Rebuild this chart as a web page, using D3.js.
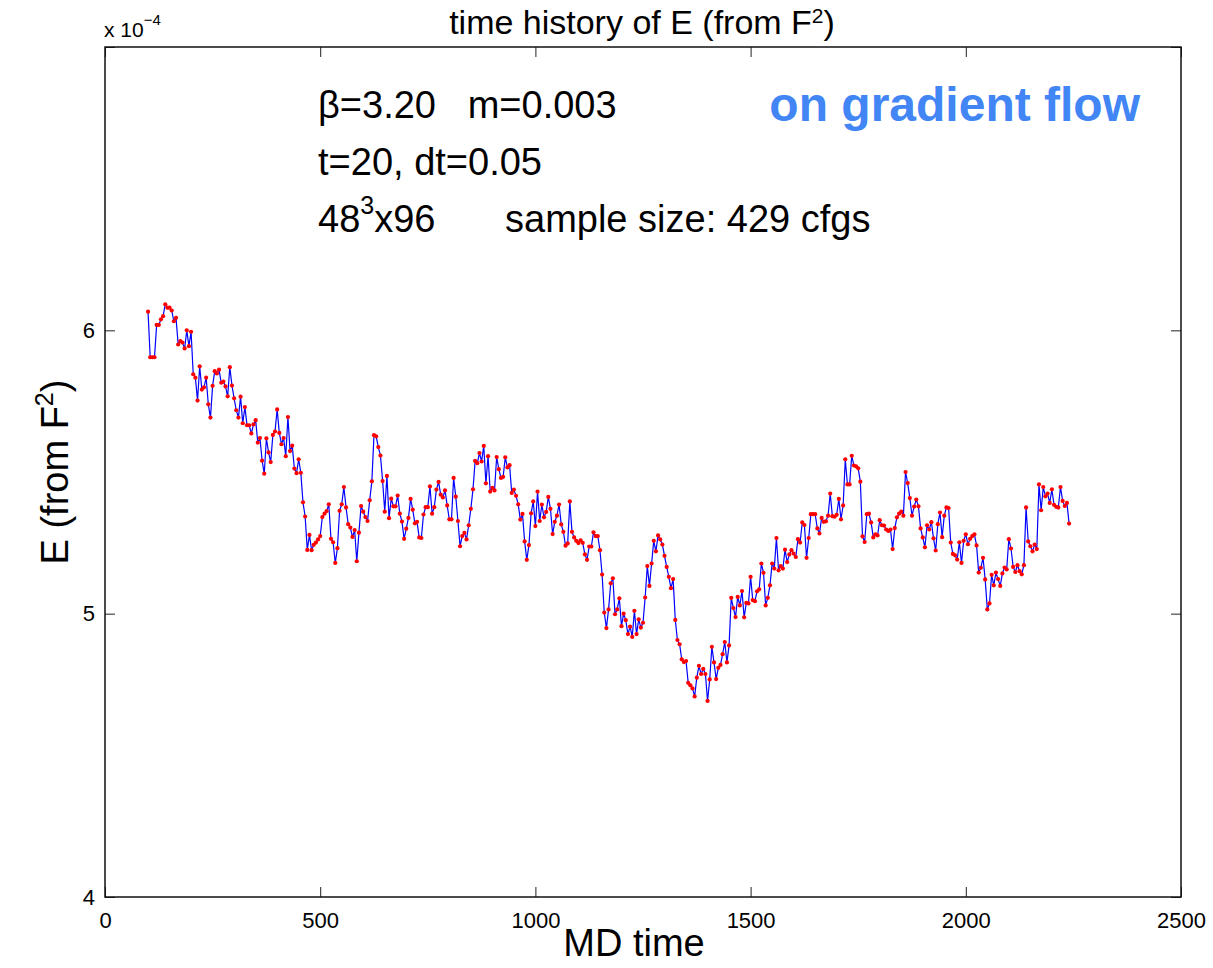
<!DOCTYPE html>
<html>
<head>
<meta charset="utf-8">
<script src="https://cdn.jsdelivr.net/npm/d3@7"></script>
<style>
  body { margin: 0; background: #fff; }
  svg { display: block; font-family: 'Liberation Sans', Arial, Helvetica, sans-serif; }
</style>
</head>
<body>
<svg id="svg" width="1213" height="968"></svg>
<script>
// E values (units of 1e-4), one per configuration
var eValues = [
  6.066, 5.905, 5.905, 5.905, 6.019, 6.019, 6.039, 6.050, 6.092, 6.080,
  6.080, 6.070, 6.032, 6.044, 5.950, 5.962, 5.957, 5.936, 6.000, 5.944,
  5.995, 5.845, 5.833, 5.752, 5.873, 5.791, 5.799, 5.833, 5.739, 5.692,
  5.804, 5.856, 5.848, 5.861, 5.815, 5.819, 5.802, 5.767, 5.870, 5.805,
  5.760, 5.718, 5.692, 5.766, 5.672, 5.729, 5.665, 5.665, 5.636, 5.668,
  5.683, 5.604, 5.620, 5.540, 5.494, 5.619, 5.569, 5.535, 5.631, 5.643,
  5.721, 5.638, 5.598, 5.620, 5.556, 5.694, 5.574, 5.593, 5.512, 5.496,
  5.545, 5.497, 5.393, 5.343, 5.225, 5.278, 5.224, 5.243, 5.251, 5.262,
  5.274, 5.341, 5.353, 5.362, 5.386, 5.264, 5.252, 5.179, 5.231, 5.363,
  5.386, 5.447, 5.375, 5.316, 5.304, 5.271, 5.295, 5.185, 5.286, 5.380,
  5.360, 5.341, 5.327, 5.400, 5.467, 5.630, 5.626, 5.588, 5.558, 5.468,
  5.360, 5.486, 5.337, 5.406, 5.379, 5.379, 5.417, 5.353, 5.325, 5.264,
  5.300, 5.338, 5.405, 5.367, 5.319, 5.324, 5.269, 5.267, 5.350, 5.376,
  5.376, 5.449, 5.353, 5.376, 5.438, 5.465, 5.420, 5.410, 5.435, 5.382,
  5.333, 5.333, 5.479, 5.413, 5.327, 5.238, 5.274, 5.285, 5.262, 5.312,
  5.370, 5.439, 5.539, 5.531, 5.567, 5.537, 5.592, 5.460, 5.556, 5.431,
  5.444, 5.435, 5.553, 5.510, 5.479, 5.483, 5.552, 5.516, 5.524, 5.426,
  5.438, 5.416, 5.386, 5.332, 5.352, 5.255, 5.190, 5.242, 5.354, 5.396,
  5.309, 5.431, 5.327, 5.385, 5.340, 5.359, 5.412, 5.370, 5.281, 5.324,
  5.346, 5.385, 5.315, 5.289, 5.240, 5.248, 5.396, 5.289, 5.269, 5.257,
  5.249, 5.259, 5.250, 5.209, 5.190, 5.237, 5.237, 5.287, 5.274, 5.274,
  5.224, 5.138, 5.004, 4.949, 5.015, 5.107, 5.125, 4.998, 5.015, 5.054,
  4.956, 5.000, 4.977, 4.928, 4.954, 4.918, 5.010, 4.928, 4.980, 4.951,
  4.968, 5.057, 5.168, 5.098, 5.177, 5.257, 5.220, 5.276, 5.262, 5.244,
  5.204, 5.165, 5.130, 5.090, 5.122, 4.978, 4.907, 4.892, 4.839, 4.829,
  4.833, 4.756, 4.747, 4.736, 4.708, 4.774, 4.816, 4.787, 4.805, 4.787,
  4.692, 4.768, 4.883, 4.828, 4.769, 4.809, 4.819, 4.857, 4.900, 4.828,
  4.888, 5.056, 5.020, 4.988, 5.059, 5.029, 5.080, 4.987, 5.038, 5.036,
  5.130, 5.048, 5.044, 5.079, 5.086, 5.177, 5.144, 5.029, 5.056, 5.100,
  5.177, 5.159, 5.267, 5.153, 5.168, 5.159, 5.226, 5.182, 5.209, 5.224,
  5.212, 5.200, 5.263, 5.251, 5.322, 5.313, 5.197, 5.267, 5.351, 5.351,
  5.351, 5.301, 5.283, 5.338, 5.324, 5.326, 5.346, 5.424, 5.344, 5.342,
  5.349, 5.405, 5.333, 5.382, 5.545, 5.456, 5.456, 5.557, 5.523, 5.520,
  5.513, 5.466, 5.273, 5.253, 5.351, 5.353, 5.322, 5.269, 5.280, 5.276,
  5.330, 5.312, 5.311, 5.297, 5.292, 5.297, 5.228, 5.302, 5.340, 5.353,
  5.360, 5.346, 5.500, 5.461, 5.408, 5.346, 5.378, 5.403, 5.379, 5.301,
  5.269, 5.234, 5.312, 5.297, 5.323, 5.266, 5.223, 5.316, 5.357, 5.270,
  5.346, 5.375, 5.373, 5.251, 5.211, 5.206, 5.191, 5.252, 5.179, 5.257,
  5.280, 5.245, 5.264, 5.274, 5.280, 5.241, 5.145, 5.162, 5.197, 5.121,
  5.015, 5.036, 5.137, 5.100, 5.145, 5.122, 5.098, 5.142, 5.163, 5.156,
  5.263, 5.230, 5.165, 5.147, 5.171, 5.150, 5.139, 5.171, 5.375, 5.255,
  5.238, 5.220, 5.244, 5.228, 5.456, 5.365, 5.447, 5.414, 5.424, 5.391,
  5.439, 5.384, 5.377, 5.375, 5.447, 5.398, 5.380, 5.391, 5.318
];

// MD time of first and last configuration (evenly spaced trajectory)
var tFirst = 100;
var tLast = 2240;

var xTicks = [0, 500, 1000, 1500, 2000, 2500];
var yTicks = [4, 5, 6, 7];
var yTickLabels = ['4', '5', '6', ''];

var info = ['\u03b2=3.20   m=0.003', 't=20, dt=0.05'];

var data = eValues.map(function (v, i) {
    return { t: tFirst + i * (tLast - tFirst) / (eValues.length - 1), e: v };
});

// plot box (don't call it "top", that's window.top)
var boxL = 105, boxR = 1181, boxT = 47, boxB = 897;

var svg = d3.select('svg');

var x = d3.scaleLinear().domain([0, 2500]).range([boxL, boxR]);
var y = d3.scaleLinear().domain([4, 7]).range([boxB, boxT]);

// axes, matlab style: ticks inside on all four sides
var xAxis = svg.append('g')
    .attr('transform', 'translate(0,' + boxB + ')')
    .call(d3.axisBottom(x).tickValues(xTicks).tickSizeInner(-10).tickSizeOuter(0).tickPadding(15).tickFormat(d3.format('d')));

svg.append('g')
    .attr('transform', 'translate(0,' + boxT + ')')
    .call(d3.axisTop(x).tickValues(xTicks).tickSizeInner(-10).tickSizeOuter(0).tickFormat(''));

var yAxis = svg.append('g')
    .attr('transform', 'translate(' + boxL + ',0)')
    .call(d3.axisLeft(y).tickValues(yTicks).tickSizeInner(-10).tickSizeOuter(0).tickPadding(10)
        .tickFormat(function (d, i) { return yTickLabels[i]; }));

svg.append('g')
    .attr('transform', 'translate(' + boxR + ',0)')
    .call(d3.axisRight(y).tickValues(yTicks).tickSizeInner(-10).tickSizeOuter(0).tickFormat(''));

svg.selectAll('.domain').remove();
svg.selectAll('.tick line').attr('stroke', '#222').attr('stroke-width', 1);

xAxis.selectAll('text')
    .attr('font-size', 22)
    .attr('fill', '#000')
    .style('font-family', "'Liberation Sans', Arial, sans-serif");
yAxis.selectAll('text')
    .attr('font-size', 22)
    .attr('fill', '#000')
    .style('font-family', "'Liberation Sans', Arial, sans-serif");

svg.append('rect')
    .attr('x', boxL)
    .attr('y', boxT)
    .attr('width', boxR - boxL)
    .attr('height', boxB - boxT)
    .attr('fill', 'none')
    .attr('stroke', '#111')
    .attr('stroke-width', 1.5);

// data line + markers
var line = d3.line()
    .x(function (d) { return x(d.t); })
    .y(function (d) { return y(d.e); });

svg.append('path')
    .datum(data)
    .attr('d', line)
    .attr('fill', 'none')
    .attr('stroke', '#0000ff')
    .attr('stroke-width', 1.2);

svg.selectAll('circle.pt')
    .data(data)
    .enter()
    .append('circle')
    .attr('class', 'pt')
    .attr('cx', function (d) { return x(d.t); })
    .attr('cy', function (d) { return y(d.e); })
    .attr('r', 2.1)
    .attr('fill', '#ff0000');

// title
var title = svg.append('text')
    .attr('x', 642)
    .attr('y', 34)
    .attr('text-anchor', 'middle')
    .attr('font-size', 34)
    .text('time history of E (from F');
title.append('tspan').attr('dy', -11).attr('font-size', 21).text('2');
title.append('tspan').attr('dy', 11).text(')');

// exponent label
var expo = svg.append('text')
    .attr('x', 104)
    .attr('y', 37)
    .attr('font-size', 21)
    .text('x 10');
expo.append('tspan').attr('dy', -12).attr('font-size', 15).text('\u22124');

// axis labels
svg.append('text')
    .attr('x', 634)
    .attr('y', 956)
    .attr('text-anchor', 'middle')
    .attr('font-size', 38)
    .text('MD time');

var ylab = svg.append('text')
    .attr('transform', 'translate(68,' + ((boxT + boxB) / 2) + ') rotate(-90)')
    .attr('text-anchor', 'middle')
    .attr('font-size', 38)
    .text('E (from F');
ylab.append('tspan').attr('dy', -15).attr('font-size', 25).text('2');
ylab.append('tspan').attr('dy', 15).text(')');

// annotations
svg.selectAll('text.info')
    .data(info)
    .enter()
    .append('text')
    .attr('class', 'info')
    .attr('x', 318)
    .attr('y', function (d, i) { return 118 + i * 57; })
    .attr('font-size', 38)
    .style('white-space', 'pre')
    .text(function (d) { return d; });

var third = svg.append('text')
    .attr('x', 318)
    .attr('y', 232)
    .attr('font-size', 38)
    .text('48');
third.append('tspan').attr('dy', -18).attr('font-size', 25).text('3');
third.append('tspan').attr('dy', 18).text('x96');
third.append('tspan').attr('x', 505).text('sample size: 429 cfgs');

svg.append('text')
    .attr('x', 1140)
    .attr('y', 121)
    .attr('text-anchor', 'end')
    .attr('font-size', 48)
    .attr('font-weight', 'bold')
    .attr('fill', '#4285f4')
    .text('on gradient flow');
</script>
</body>
</html>
